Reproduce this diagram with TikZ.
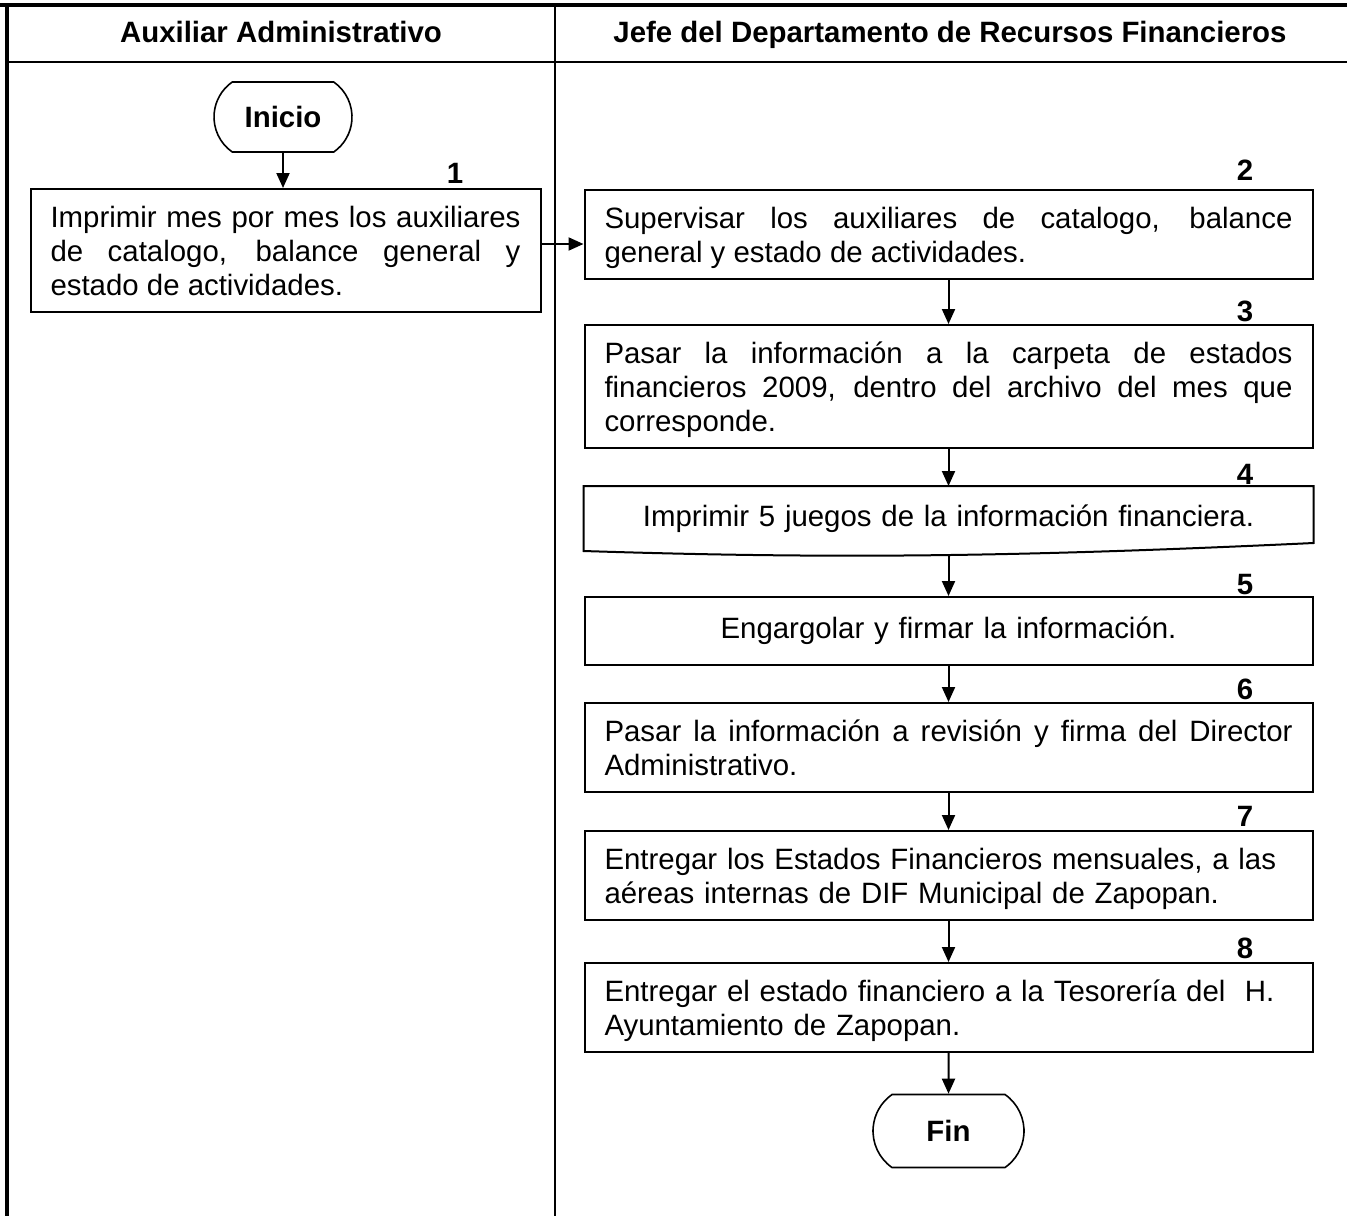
\documentclass[tikz,border=0pt]{standalone}
\usepackage{fontspec}
\setmainfont{Liberation Sans}
\usetikzlibrary{shapes.misc,arrows.meta}
\tolerance=10000 \hbadness=10000
\newcommand{\letra}{\fontsize{14.7}{17}\selectfont}

\begin{document}
\begin{tikzpicture}[x=0.5pt, y=-0.5pt]
\tikzstyle{every node}=[font=\letra];
\tikzstyle{caja}=[draw, line width=1pt, inner xsep=10pt, inner ysep=0pt, text width=344pt, align=justify, anchor=north, text height=19pt];
\tikzstyle{dos}=[text depth=25.5pt];
\tikzstyle{tres}=[text depth=42.5pt];
\tikzstyle{term}=[draw, line width=0.8pt, rounded rectangle, rounded rectangle arc length=110, minimum width=69pt, minimum height=35pt, inner sep=0pt, font=\letra\bfseries];
\tikzstyle{num}=[font=\letra\bfseries, inner sep=0pt, anchor=base];
\tikzstyle{flecha}=[line width=1pt, -{Triangle[length=7.5pt,width=6.5pt]}];
\useasboundingbox (0,0) rectangle (1347,1216);
% carriles
\draw[line width=2pt] (0,5) -- (1347,5);
\draw[line width=2pt] (7,4) -- (7,1216);
\draw[line width=1.2pt] (7,62) -- (1347,62);
\draw[line width=1pt] (555,5) -- (555,1216);
\node[font=\letra\bfseries, anchor=base] (aux) at (281,42) {Auxiliar Administrativo};
\node[font=\letra\bfseries, anchor=base] (jefe) at (950,42) {Jefe del Departamento de Recursos Financieros};
% pasos
\node[term] (ini) at (283,117) {Inicio};
\node[caja, tres, text width=235pt] (b1) at (285.5,188) {Imprimir mes por mes los auxiliares\linebreak de catalogo, balance general y\linebreak estado de actividades.};
\node[caja, dos] (b2) at (948.5,189) {Supervisar los auxiliares de catalogo, balance\linebreak general y estado de actividades.};
\node[caja, tres] (b3) at (948.5,324) {Pasar la información a la carpeta de estados\linebreak financieros 2009, dentro del archivo del mes que\linebreak corresponde.};
\node[caja, draw=none, align=center, anchor=center, text height=, minimum height=31.5pt] (b4) at (948.5,518.5) {Imprimir 5 juegos de la información financiera.};
\node[caja, align=center, anchor=center, text height=, minimum height=34pt] (b5) at (948.5,631) {Engargolar y firmar la información.};
\node[caja, dos] (b6) at (948.5,702) {Pasar la información a revisión y firma del Director\linebreak Administrativo.};
\node[caja, dos, align=left] (b7) at (948.5,830) {Entregar los Estados Financieros mensuales, a las\\ aéreas internas de DIF Municipal de Zapopan.};
\node[caja, dos, align=left] (b8) at (948.5,962) {Entregar el estado financiero a la Tesorería del~ H.\\ Ayuntamiento de Zapopan.};
\node[term, minimum width=75.5pt, minimum height=36.5pt] (fin) at (948.5,1131) {Fin};
% documento
\draw[line width=1pt] (b4.north west) -- (b4.north east) -- ([yshift=4pt]b4.south east)
  .. controls +(-300,14) and +(250,8) .. (b4.south west) -- cycle;
% numeros
\node[num] (n1) at (455,183) {1};
\node[num] (n2) at (1245,180) {2};
\node[num] (n3) at (1245,321) {3};
\node[num] (n4) at (1245,484) {4};
\node[num] (n5) at (1245,594) {5};
\node[num] (n6) at (1245,699) {6};
\node[num] (n7) at (1245,826) {7};
\node[num] (n8) at (1245,958) {8};
% flechas
\draw[flecha] (ini.south) -- (ini.south |- b1.north);
\draw[flecha] ([yshift=3.25pt]b1.east) -- ([yshift=3.25pt]b1.east -| b2.west);
\draw[flecha] (b2) -- (b3);
\draw[flecha] (b3) -- (b4.north);
\draw[flecha] ([yshift=-2.5pt]b4.south) -- (b5.north);
\draw[flecha] (b5) -- (b6);
\draw[flecha] (b6) -- (b7);
\draw[flecha] (b7) -- (b8);
\draw[flecha] (b8) -- (fin);
\end{tikzpicture}
\end{document}
